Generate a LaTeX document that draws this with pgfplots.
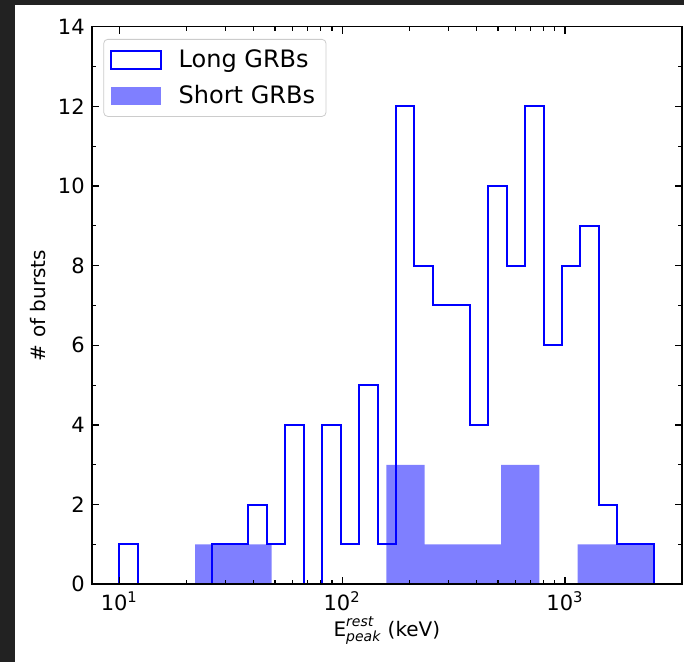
\documentclass[border=0pt]{standalone}
\usepackage{fontspec}
\setmainfont{DejaVu Sans}
\usepackage{amsmath}
\usepackage{pgfplots}
\pgfplotsset{compat=1.18}
\definecolor{darkbg}{RGB}{34,34,34}
\newcommand{\lblfont}{\fontsize{12}{14}\selectfont}
\newcommand{\tickfont}{\fontsize{10.5}{12}\selectfont}

\begin{document}
\begin{tikzpicture}
% screenshot frame (1 px = 0.5 pt)
\fill[white] (0,0) rectangle (342pt,331pt);
\fill[darkbg] (0,0) rectangle (7.5pt,331pt);
\fill[darkbg] (0,328.5pt) rectangle (342pt,331pt);
\useasboundingbox (0,0) rectangle (342pt,331pt);
\begin{axis}[
  at={(45.85pt,38.85pt)}, anchor=south west,
  scale only axis, width=295.15pt, height=278.8pt,
  xmode=log, xmin=7.52, xmax=3350, ymin=0, ymax=14,
  ytick={0,2,...,14}, minor y tick num=1,
  xtick={10,100,1000},
  xticklabels={10\textsuperscript{1},10\textsuperscript{2},10\textsuperscript{3}},
  tick align=inside,
  major tick length=3.5pt, minor tick length=2pt,
  every tick/.style={black, line width=0.6pt},
  axis line style={black, line width=0.8pt},
  axis on top,
  tick label style={font=\tickfont},
  /pgf/number format/assume math mode=true,
  xlabel={$\text{E}^{\text{\itshape rest}}_{\text{\itshape peak}}$ (keV)},
  ylabel={\# of bursts},
  label style={font=\lblfont},
  every axis x label/.style={at={(axis description cs:0.5,0)}, yshift=-23pt, anchor=center},
  every axis y label/.style={at={(axis description cs:0,0.5)}, xshift=-26.9pt, rotate=90, anchor=center},
  legend style={at={(0.0197,0.978)}, anchor=north west, draw=black!20,
    rounded corners=2pt, font=\lblfont, inner xsep=3pt, inner ysep=2.5pt,
    row sep=2.5pt, nodes={inner sep=2.5pt},
    /tikz/every odd column/.append style={column sep=6pt}},
  legend cell align=left,
]
% Long GRBs: 29 log bins from 10 to 2512 keV
\addplot[blue, line width=1pt, const plot mark left,
  legend image code/.code={\draw[blue, line width=1pt, sharp corners] (0pt,-4.5pt) rectangle (25pt,4.5pt);}]
  coordinates {
  (10,0) (10,1) (12.099,0) (14.639,0) (17.713,0) (21.432,0) (25.931,1)
  (31.375,1) (37.962,2) (45.932,1) (55.575,4) (67.243,0) (81.360,4)
  (98.440,1) (119.11,5) (144.11,1) (174.37,12) (210.98,8) (255.27,7)
  (308.86,7) (373.70,4) (452.16,10) (547.08,8) (661.93,12) (800.89,6)
  (969.03,8) (1172.5,9) (1418.6,2) (1716.4,1) (2076.8,1) (2512.8,1)
  (2512.8,0)};
\addlegendentry{Long GRBs}
% Short GRBs: 12 log bins from 21.9 to 2513 keV
\addplot[draw=none, fill=blue, fill opacity=0.5, const plot mark left,
  legend image code/.code={\fill[blue, fill opacity=0.5, sharp corners] (0pt,-4.5pt) rectangle (25pt,4.5pt);}]
  coordinates {
  (21.87,1) (32.47,1) (48.22,0) (71.60,0) (106.32,0) (157.87,3)
  (234.43,1) (348.10,1) (516.90,3) (767.55,0) (1139.7,1) (1692.4,1)
  (2513.0,1)} \closedcycle;
\addlegendentry{Short GRBs}
\end{axis}
\end{tikzpicture}
\end{document}
